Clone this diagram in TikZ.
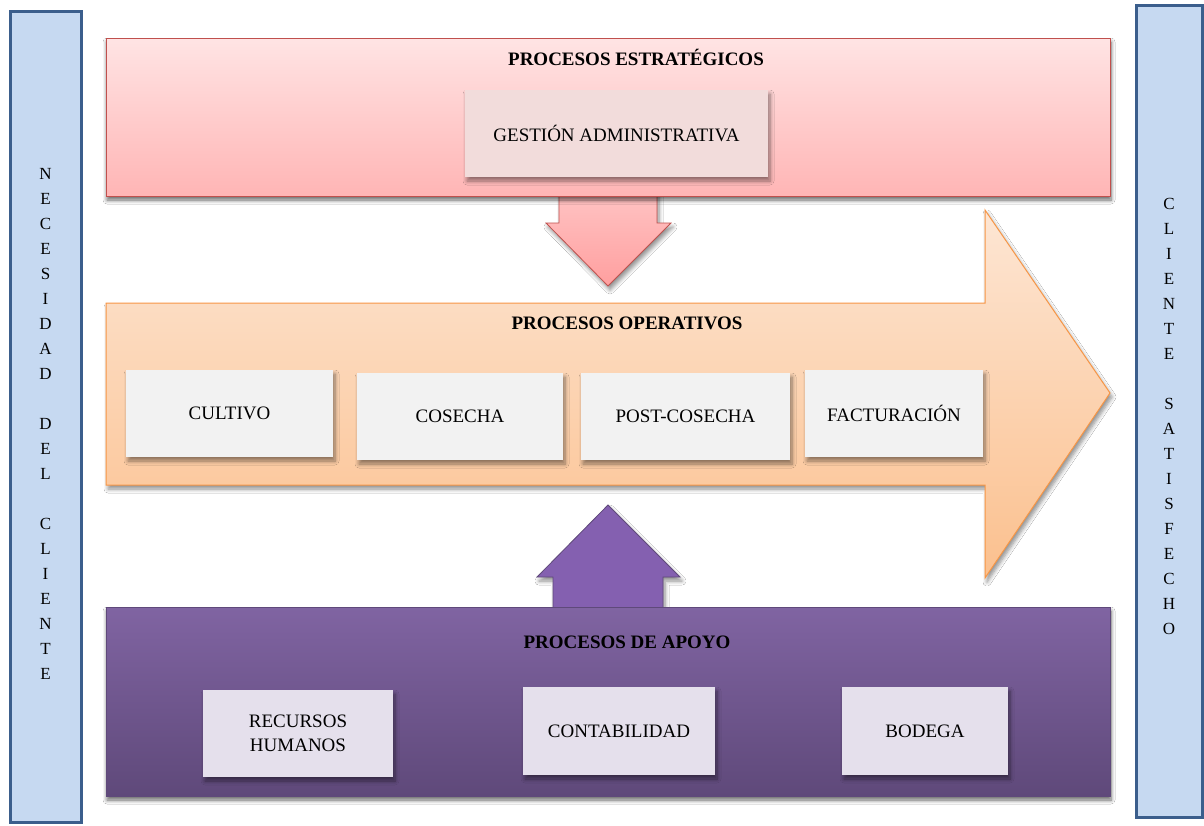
\documentclass[tikz,border=0pt]{standalone}
\usepackage{fontspec}
\setmainfont{Liberation Serif}
\usetikzlibrary{shadows.blur}
\definecolor{barfill}{HTML}{C6D9F1}
\definecolor{barline}{HTML}{3B5E8C}
\definecolor{redtop}{HTML}{FFE4E4}
\definecolor{redbot}{HTML}{FFB5B5}
\definecolor{redline}{HTML}{C0504D}
\definecolor{redarrowtop}{HTML}{FFC4C4}
\definecolor{redarrowbot}{HTML}{FF9F9F}
\definecolor{gestfill}{HTML}{F2DCDB}
\definecolor{orgtop}{HTML}{FDE6D4}
\definecolor{orgbot}{HTML}{FBC08E}
\definecolor{orgline}{HTML}{F79646}
\definecolor{greybox}{HTML}{F2F2F2}
\definecolor{purtop}{HTML}{8064A2}
\definecolor{purbot}{HTML}{5F497A}
\definecolor{purarrow}{HTML}{8460B0}
\definecolor{purbox}{HTML}{E5E0EC}
\tikzset{
  sidebar/.style={draw=barline, line width=3pt, fill=barfill, inner sep=0pt},
  vlabel/.style={font=\fontsize{17}{25}\selectfont, align=center, inner sep=0pt},
  titletext/.style={font=\fontsize{19}{22}\selectfont\bfseries, inner sep=0pt},
  softshadow/.style={blur shadow={shadow xshift=2pt, shadow yshift=-4pt, shadow blur steps=6, shadow blur radius=4pt, shadow opacity=45}},
  bigbox/.style={inner sep=0pt, blur shadow={shadow xshift=1pt, shadow yshift=-4pt, shadow blur steps=6, shadow blur radius=4pt, shadow opacity=60}},
  itembox/.style={inner sep=0pt, softshadow, font=\fontsize{19}{24}\selectfont, align=center},
}
\begin{document}
\begin{tikzpicture}[x=1pt,y=-1pt]
\useasboundingbox (0,0) rectangle (1204,825);
\fill[white] (0,0) rectangle (1204,825);

% side bars
\node[sidebar, minimum width=71pt, minimum height=811pt] (leftbar) at (45.5,416.5) {};
\node[vlabel] (leftlabel) at (45.5,423.5) {N\\E\\C\\E\\S\\I\\D\\A\\D\\[25pt]D\\E\\L\\[25pt]C\\L\\I\\E\\N\\T\\E};
\node[sidebar, minimum width=66pt, minimum height=812pt] (rightbar) at (1169,411) {};
\node[vlabel] (rightlabel) at (1169,416.5) {C\\L\\I\\E\\N\\T\\E\\[25pt]S\\A\\T\\I\\S\\F\\E\\C\\H\\O};

% operative arrow
\path[draw=orgline, line width=1pt, top color=orgtop, bottom color=orgbot, softshadow]
  (106,303) -- (985,303) -- (985,210) -- (1110,393) -- (985,578) -- (985,485) -- (106,485) -- cycle;

% strategic down arrow
\path[draw=redline, line width=0.8pt, top color=redarrowtop, bottom color=redarrowbot, softshadow]
  (559,190) -- (559,223) -- (546,223) -- (608,286) -- (671,223) -- (657,223) -- (657,190) -- cycle;

% strategic box
\node[bigbox, draw=redline, line width=0.8pt, top color=redtop, bottom color=redbot,
      minimum width=1004pt, minimum height=158pt] (strat) at (608,117) {};
\node[titletext] (strattitle) at (636,57) {PROCESOS ESTRATÉGICOS};
\node[itembox, fill=gestfill, minimum width=303pt, minimum height=87pt] (gestion) at (616.5,133.5) {GESTIÓN ADMINISTRATIVA};

% support up arrow
\path[draw=purbot, line width=0.8pt, fill=purarrow, softshadow]
  (553,612) -- (553,577) -- (537,577) -- (608,505) -- (680,577) -- (663,577) -- (663,612) -- cycle;

% support box
\node[bigbox, draw=purbot, line width=0.8pt, top color=purtop, bottom color=purbot,
      minimum width=1004pt, minimum height=189pt] (apoyo) at (608,701.5) {};

% titles
\node[titletext] (optitle) at (627,323) {PROCESOS OPERATIVOS};
\node[titletext] (apoyotitle) at (627,642) {PROCESOS DE APOYO};

% operative items
\node[itembox, fill=greybox, minimum width=207pt, minimum height=87pt] (cultivo) at (229.5,413.5) {CULTIVO};
\node[itembox, fill=greybox, minimum width=206pt, minimum height=87pt] (cosecha) at (460,416.5) {COSECHA};
\node[itembox, fill=greybox, minimum width=209pt, minimum height=87pt] (postcosecha) at (685.5,416.5) {POST-COSECHA};
\node[itembox, fill=greybox, minimum width=178pt, minimum height=87pt] (facturacion) at (894,413.5) {FACTURACIÓN};

% support items
\node[itembox, fill=purbox, minimum width=190pt, minimum height=87pt] (rrhh) at (298,733.5) {RECURSOS\\HUMANOS};
\node[itembox, fill=purbox, minimum width=192pt, minimum height=88pt] (contab) at (619,731) {CONTABILIDAD};
\node[itembox, fill=purbox, minimum width=166pt, minimum height=88pt] (bodega) at (925,731) {BODEGA};
\end{tikzpicture}
\end{document}
